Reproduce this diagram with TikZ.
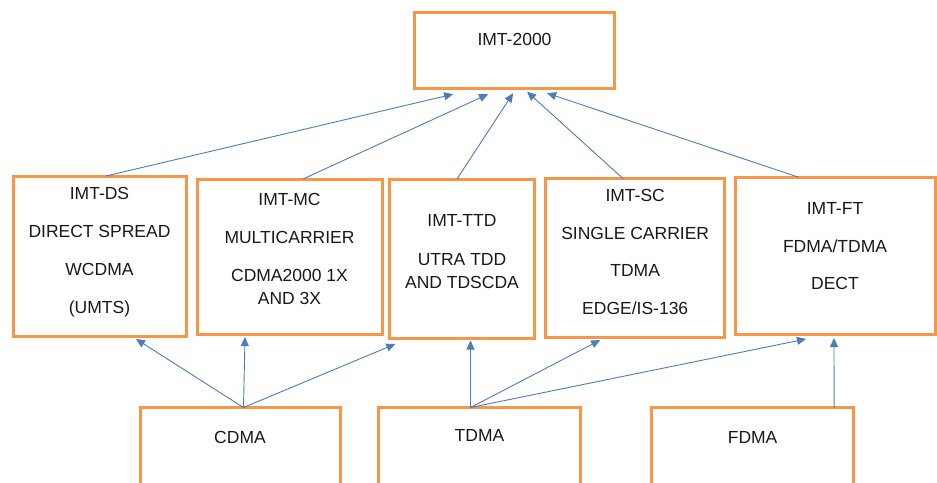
\documentclass[tikz,border=0pt]{standalone}
\usepackage{fontspec}
\setmainfont{Liberation Sans}
\usetikzlibrary{arrows.meta}
\definecolor{boxorange}{HTML}{F79646}
\definecolor{linkblue}{HTML}{4A7EBB}
\tikzset{
  box/.style={draw=boxorange, line width=3pt, inner sep=0pt, outer sep=0pt, rectangle, fill=white},
  lbl/.style={align=center, font=\fontsize{17.5}{22.7}\selectfont, anchor=base, inner sep=0pt, text=black!90},
  conn/.style={draw=linkblue, line width=0.9pt, -{Triangle[length=9pt,width=8pt]}},
}
\begin{document}
\begin{tikzpicture}[x=1pt,y=-1pt]
\useasboundingbox (0,0) rectangle (937,482);
% boxes
\node[box, minimum width=200.7pt, minimum height=76.4pt] (top) at (514.6,50.5) {};
\node[box, minimum width=173pt, minimum height=160pt] (b1) at (99.5,256) {};
\node[box, minimum width=185pt, minimum height=155pt] (b2) at (289.5,256.5) {};
\node[box, minimum width=144.7pt, minimum height=159pt] (b3) at (462,258.5) {};
\node[box, minimum width=178.8pt, minimum height=158.3pt] (b4) at (635.2,257.9) {};
\node[box, minimum width=200pt, minimum height=157pt] (b5) at (835,255.5) {};
\node[box, minimum width=200pt, minimum height=100pt] (cdma) at (240,457.5) {};
\node[box, minimum width=202pt, minimum height=100pt] (tdma) at (479.5,457.5) {};
\node[box, minimum width=202pt, minimum height=100pt] (fdma) at (752.6,457.5) {};
% texts (anchor = baseline of the last line)
\node[lbl] (t0) at (514.5,45.5) {IMT-2000};
\node[lbl] (t1) at (99.5,313) {IMT-DS\\[15pt]DIRECT SPREAD\\[15pt]WCDMA\\[15pt](UMTS)};
\node[lbl] (t2) at (289.5,304) {IMT-MC\\[15.2pt]MULTICARRIER\\[15pt]CDMA2000 1X\\AND 3X};
\node[lbl] (t3) at (462,288) {IMT-TTD\\[16pt]UTRA TDD\\AND TDSCDA};
\node[lbl] (t4) at (635.2,314.6) {IMT-SC\\[15pt]SINGLE CARRIER\\[15pt]TDMA\\[15pt]EDGE/IS-136};
\node[lbl] (t5) at (835,289.6) {IMT-FT\\[15.5pt]FDMA/TDMA\\[14pt]DECT};
\node[lbl] (tc) at (240,443) {CDMA};
\node[lbl] (tt) at (479.5,441.3) {TDMA};
\node[lbl] (tf) at (752.6,443) {FDMA};
% connectors to IMT-2000
\draw[conn] ([xshift=6.5pt]b1.north) -- ([xshift=-61.5pt,yshift=-5.5pt]top.south);
\draw[conn] ([xshift=13.5pt]b2.north) -- ([xshift=-26.5pt,yshift=-5.5pt]top.south);
\draw[conn] ([xshift=-5pt]b3.north) -- ([xshift=-1.5pt,yshift=-4.5pt]top.south);
\draw[conn] ([xshift=-12pt]b4.north) -- ([xshift=12.5pt,yshift=-3pt]top.south);
\draw[conn] ([xshift=-37pt]b5.north) -- ([xshift=32.5pt,yshift=-4.5pt]top.south);
% connectors from access schemes
\draw[conn] ([xshift=3.5pt]cdma.north) -- ([xshift=36.5pt,yshift=-3pt]b1.south);
\draw[conn] ([xshift=3.5pt]cdma.north) -- ([xshift=-44.5pt,yshift=-3pt]b2.south);
\draw[conn] ([xshift=3.5pt]cdma.north) -- ([xshift=-66.7pt,yshift=-6pt]b3.south);
\draw[conn] ([xshift=-9pt]tdma.north) -- ([xshift=8.5pt,yshift=-2.5pt]b3.south);
\draw[conn] ([xshift=-9pt]tdma.north) -- ([xshift=-35pt,yshift=-3pt]b4.south);
\draw[conn] ([xshift=-9pt]tdma.north) -- ([xshift=-29pt,yshift=-5pt]b5.south);
\draw[conn] ([xshift=81.5pt]fdma.north) -- ([xshift=-1pt,yshift=-4pt]b5.south);
\end{tikzpicture}
\end{document}
